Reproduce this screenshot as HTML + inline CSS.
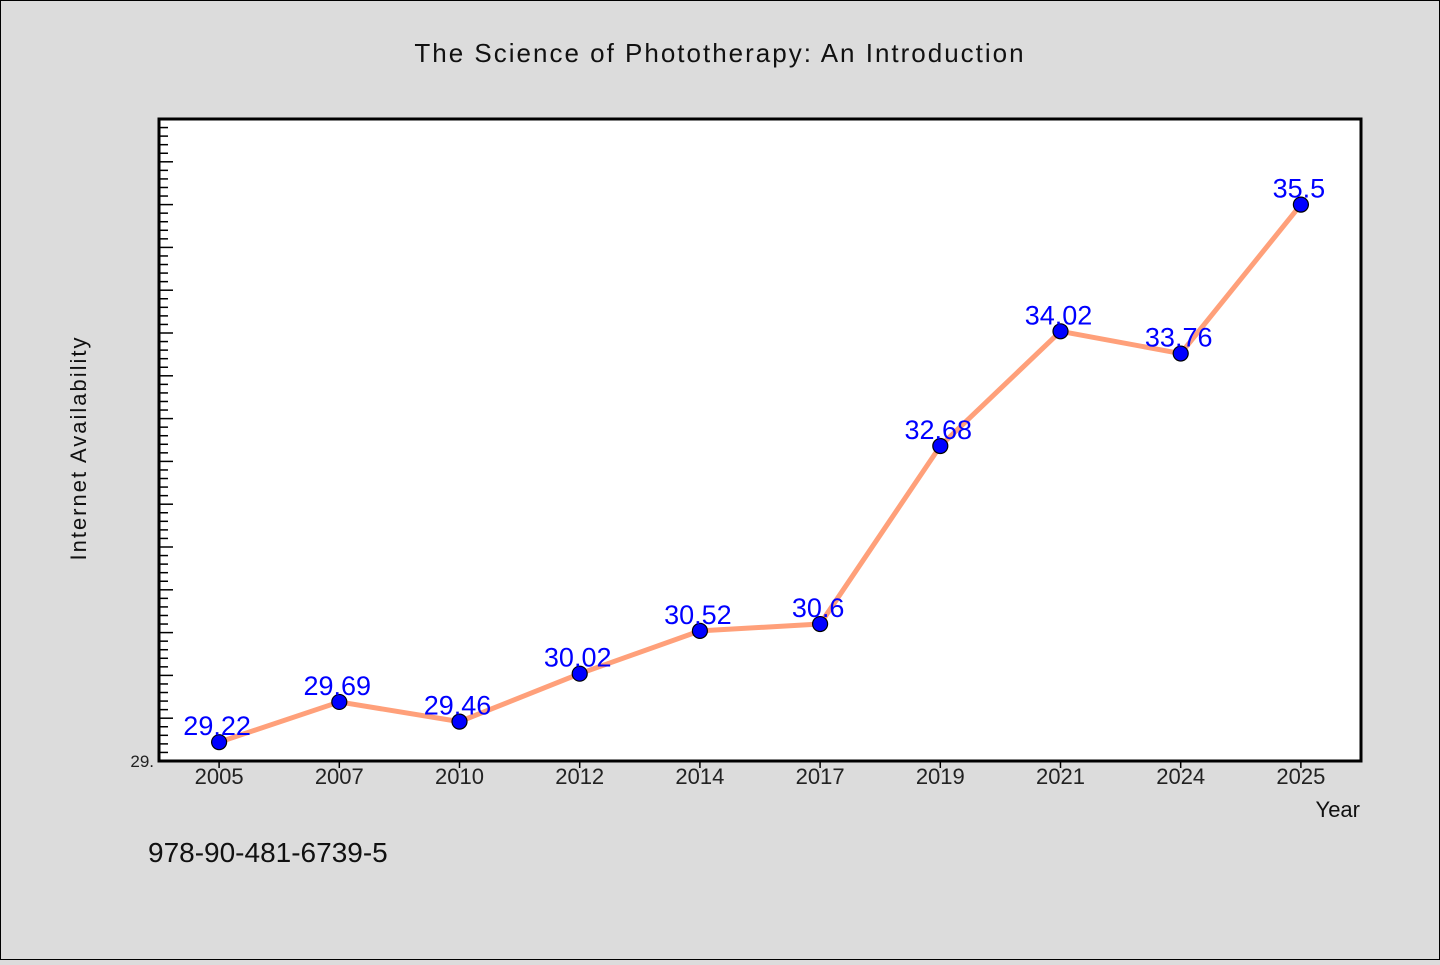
<!DOCTYPE html>
<html><head><meta charset="utf-8"><style>
html,body{margin:0;padding:0;background:#dcdcdc;}
svg text{font-family:"WenQuanYi Zen Hei","Liberation Sans",sans-serif;}
</style></head><body>
<svg width="1440" height="960" xmlns="http://www.w3.org/2000/svg">
<rect x="0.5" y="0.5" width="1439" height="959" fill="#dcdcdc" stroke="#000"/>
<text x="720" y="62" text-anchor="middle" font-size="26" letter-spacing="2" fill="#111">The Science of Phototherapy: An Introduction</text>
<rect x="159" y="119" width="1202" height="642" fill="#fff" stroke="#000" stroke-width="3"/>
<g id="yticks"></g>
<g id="xticks"></g>
<g id="series"></g>
<text x="86" y="448" text-anchor="middle" font-size="22" letter-spacing="2" fill="#111" transform="rotate(-90 86 448)">Internet Availability</text>
<text x="1360" y="817" text-anchor="end" font-size="22" fill="#111">Year</text>
<text x="148" y="862" font-size="28" fill="#111">978-90-481-6739-5</text>
</svg>
<script>
const categories=["2005","2007","2010","2012","2014","2017","2019","2021","2024","2025"];
const values=[29.22,29.69,29.46,30.02,30.52,30.6,32.68,34.02,33.76,35.5];
const valueLabels=["29.22","29.69","29.46","30.02","30.52","30.6","32.68","34.02","33.76","35.5"];
const yMin=29, yMax=36.5;
const NS="http://www.w3.org/2000/svg";
const L=159,R=1361,T=119,B=761;
const band=(R-L)/categories.length;
function xs(i){return L+band*(i+0.5);}
function ys(v){return B-(v-yMin)/(yMax-yMin)*(B-T);}
function mk(tag,attrs,parent){const e=document.createElementNS(NS,tag);for(const k in attrs)e.setAttribute(k,attrs[k]);parent.appendChild(e);return e;}
const yg=document.getElementById('yticks');
for(let k=1;k<=Math.round((yMax-yMin)*10);k++){
  const v=yMin+k*0.1;const y=ys(v);const major=k%5===0;
  const t=mk('line',{x1:L,x2:L+(major?14:9),y1:y,y2:y,stroke:'#000','stroke-width':1.5},yg);
  
  
}
const yl=mk('text',{x:154,y:B+6,'text-anchor':'end','font-size':17,fill:'#222'},yg);
yl.textContent="29.";


const xg=document.getElementById('xticks');
categories.forEach((c,i)=>{
  const t=mk('line',{x1:xs(i),x2:xs(i),y1:B,y2:B+7,stroke:'#000','stroke-width':1.5},xg);
  
  
  const tx=mk('text',{x:xs(i),y:B+23,'text-anchor':'middle','font-size':22,fill:'#222'},xg);
  tx.textContent=c;
  
  
});
const sg=document.getElementById('series');
const pts=values.map((v,i)=>xs(i)+','+ys(v)).join(' ');
const pl=mk('polyline',{points:pts,fill:'none',stroke:'#ffa07a','stroke-width':5,'stroke-linejoin':'round'},sg);


values.forEach((v,i)=>{
  const c=mk('circle',{cx:xs(i),cy:ys(v),r:7.5,fill:'#0000ff',stroke:'#000','stroke-width':1.2},sg);
  
  
  const t=mk('text',{x:xs(i)-2,y:ys(v)-7,'text-anchor':'middle','font-size':27,fill:'#0000ff'},sg);
  t.textContent=valueLabels[i];
  
  
});
</script>
</body></html>
